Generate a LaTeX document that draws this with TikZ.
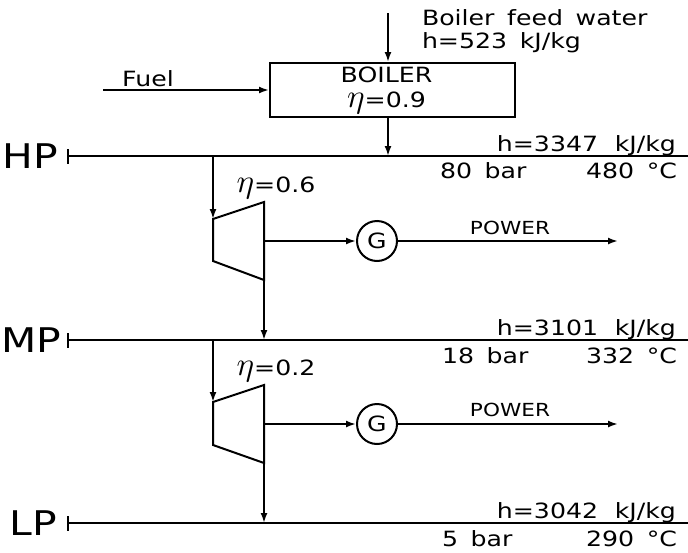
\documentclass[tikz,border=0pt]{standalone}
\usepackage{fontspec}
\setmainfont{DejaVu Sans}[FakeStretch=1.2]
\usetikzlibrary{arrows.meta}
\usetikzlibrary{positioning}
\newcommand{\wsp}{\hspace{0.6em}}
\newcommand{\effsym}{\scalebox{3.3}{\fontsize{10}{10}\selectfont$\eta$}}

\begin{document}
\begin{tikzpicture}[x=1pt, y=-1pt, line width=2pt,
    flow/.style={-{Latex[length=10pt,width=7pt]}},
    header/.style={{Bar[width=15pt]}-},
    lbl/.style={font=\fontsize{21}{22}\selectfont, inner sep=0pt},
    small/.style={font=\fontsize{18}{20}\selectfont, inner sep=0pt},
    hdr/.style={font=\fontsize{34}{36}\selectfont, inner sep=0pt},
    gen/.style={draw, circle, minimum size=40pt, inner sep=0pt, font=\fontsize{21}{22}\selectfont}]
    \useasboundingbox (0,0) rectangle (688,552);

    % Steam headers
    \node[hdr] (HP) at (30,156) {HP};
    \node[hdr] (MP) at (31,340) {MP};
    \node[hdr] (LP) at (33,523) {LP};
    \coordinate (HP-w) at (67,156);
    \coordinate (MP-w) at (67,340);
    \coordinate (LP-w) at (67,523);
    \coordinate (HP-e) at (688,156);
    \coordinate (MP-e) at (688,340);
    \coordinate (LP-e) at (688,523);
    \draw[header] (HP-w) -- (HP-e);
    \draw[header] (MP-w) -- (MP-e);
    \draw[header] (LP-w) -- (LP-e);

    % Boiler
    \node[draw, lbl, align=center, minimum width=245pt, minimum height=54pt] (boiler) at (392.5,90)
        {\hspace{-12pt}BOILER\\[3pt]\hspace{-12pt}\effsym=0.9};
    \coordinate (feedin) at (388,13);
    \draw[flow] (feedin) -- (feedin |- boiler.north);
    \node[lbl, anchor=west] (feedtxt) at (421,18) {Boiler\wsp feed\wsp water};
    \node[lbl, anchor=west] (feedh) at (421,43) {h=523\wsp kJ/kg};
    \coordinate (fuelin) at (103,90);
    \draw[flow] (fuelin) -- (boiler.west);
    \node[lbl] (fueltxt) at (148,79) {Fuel};
    \draw[flow] (feedin |- boiler.south) -- (feedin |- HP-w);

    % Header data
    \node[lbl, anchor=base east] (hph) at (677,151) {h=3347\hspace{0.8em}kJ/kg};
    \node[lbl, anchor=west] (hpp) at (439,171) {80\wsp bar};
    \node[lbl, anchor=east] (hpt) at (678,171) {480\wsp °C};
    \node[lbl, anchor=base east] (mph) at (677,335) {h=3101\hspace{0.8em}kJ/kg};
    \node[lbl, anchor=west] (mpp) at (441,356) {18\wsp bar};
    \node[lbl, anchor=east] (mpt) at (678,356) {332\wsp °C};
    \node[lbl, anchor=base east] (lph) at (677,518) {h=3042\hspace{0.8em}kJ/kg};
    \node[lbl, anchor=west] (lpp) at (441,539) {5\wsp bar};
    \node[lbl, anchor=east] (lpt) at (678,539) {290\wsp °C};

    % HP -> MP turbine
    \coordinate (t1in) at (213,219);
    \coordinate (t1top) at (264,202);
    \coordinate (t1out) at (264,280);
    \coordinate (t1bot) at (213,261);
    \draw (t1in) -- (t1top) -- (t1out) -- (t1bot) -- cycle;
    \draw[flow] (HP-w -| t1in) -- (t1in);
    \draw[flow] (t1out) -- (t1out |- MP-w);
    \node[lbl] (t1eta) at (276,188) {\effsym=0.6};
    \coordinate (t1shaft) at (264,241);
    \node[gen] (g1) at (377,241) {G};
    \draw[flow] (t1shaft) -- (g1);
    \coordinate (p1) at (618,241);
    \draw[flow] (g1) -- (p1);
    \node[small] (p1txt) at (510,228) {POWER};

    % MP -> LP turbine
    \coordinate (t2in) at (213,402);
    \coordinate (t2top) at (264,385);
    \coordinate (t2out) at (264,463);
    \coordinate (t2bot) at (213,445);
    \draw (t2in) -- (t2top) -- (t2out) -- (t2bot) -- cycle;
    \draw[flow] (MP-w -| t2in) -- (t2in);
    \draw[flow] (t2out) -- (t2out |- LP-w);
    \node[lbl] (t2eta) at (276,371) {\effsym=0.2};
    \coordinate (t2shaft) at (264,424);
    \node[gen] (g2) at (377,424) {G};
    \draw[flow] (t2shaft) -- (g2);
    \coordinate (p2) at (618,424);
    \draw[flow] (g2) -- (p2);
    \node[small] (p2txt) at (510,410) {POWER};
\end{tikzpicture}
\end{document}
